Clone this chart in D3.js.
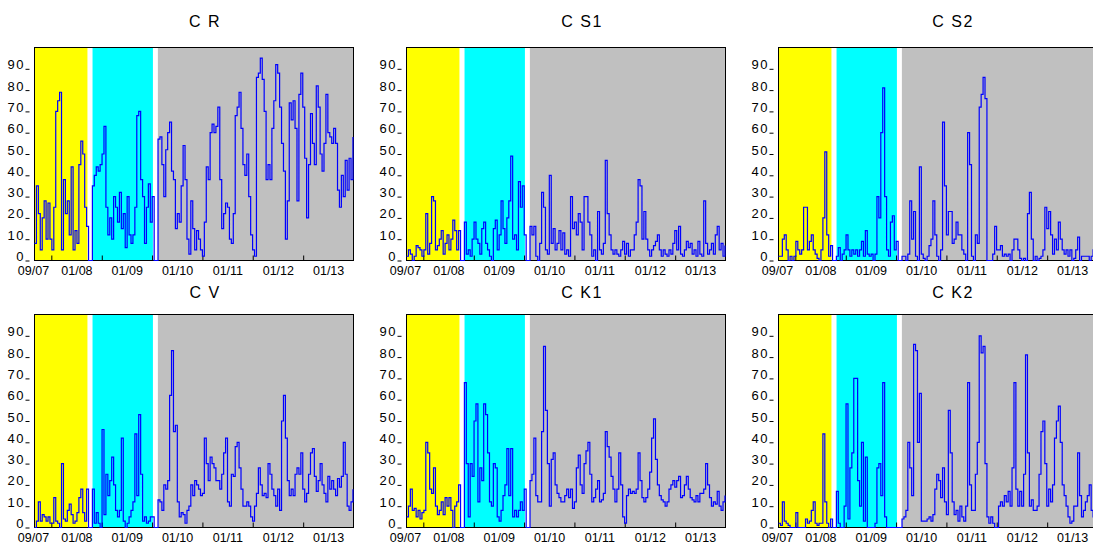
<!DOCTYPE html>
<html>
<head>
<meta charset="utf-8">
<script src="https://cdn.jsdelivr.net/npm/d3@7"></script>
<style>
  body { margin: 0; background: #fff; }
  svg { display: block; font-family: "Liberation Sans", Arial, sans-serif; }
</style>
</head>
<body>
<svg id="chart" width="1093" height="543"></svg>
<script>
// one reading every two weeks, starting 1 Sep 2007
const startDate = new Date(2007, 8, 1);
const endDate = new Date(2014, 0, 1);
const stepDays = 14;

const titles = ["C R", "C S1", "C S2", "C V", "C K1", "C K2"];

const cr = [8, 35, 22, 5, 20, 28, 10, 27, 10, 5,
  25, 70, 75, 79, 5, 38, 22, 28, 12, 44,
  5, 14, 8, 45, 56, 50, 25, 16, 0, 0,
  35, 40, 44, 42, 45, 50, 63, 25, 12, 20,
  10, 30, 25, 18, 32, 15, 22, 6, 30, 12,
  8, 12, 25, 68, 70, 38, 30, 8, 25, 36,
  18, 30, 0, 0, 57, 58, 45, 30, 52, 60,
  65, 42, 38, 15, 22, 18, 35, 54, 38, 10,
  3, 28, 15, 5, 14, 10, 5, 2, 18, 44,
  38, 60, 64, 60, 63, 72, 38, 15, 22, 27,
  25, 10, 8, 22, 68, 72, 79, 62, 45, 40,
  50, 30, 12, 5, 2, 86, 88, 95, 85, 70,
  38, 45, 38, 62, 75, 92, 88, 72, 55, 42,
  10, 28, 74, 66, 75, 62, 28, 78, 88, 72,
  48, 20, 45, 69, 55, 45, 82, 72, 50, 42,
  55, 78, 60, 58, 55, 62, 55, 33, 25, 40,
  30, 47, 33, 48, 38, 58];

const cs1 = [2, 5, 3, 0, 2, 7, 6, 5, 2, 5,
  22, 3, 8, 30, 28, 5, 7, 10, 14, 3,
  8, 12, 5, 10, 19, 14, 5, 14, 0, 0,
  18, 3, 5, 2, 10, 18, 10, 8, 3, 15,
  18, 8, 5, 2, 0, 15, 19, 5, 12, 28,
  15, 8, 20, 28, 49, 10, 12, 5, 37, 25,
  35, 12, 0, 0, 16, 12, 16, 2, 0, 8,
  32, 25, 5, 3, 40, 8, 15, 5, 8, 14,
  5, 13, 3, 5, 2, 30, 15, 18, 12, 22,
  18, 5, 30, 30, 18, 12, 2, 5, 0, 23,
  5, 3, 8, 47, 22, 12, 5, 3, 5, 3,
  2, 5, 9, 3, 8, 2, 5, 5, 12, 18,
  38, 35, 10, 23, 10, 5, 2, 5, 7, 9,
  12, 5, 2, 5, 3, 2, 5, 3, 8, 14,
  5, 16, 3, 2, 5, 9, 6, 8, 3, 5,
  2, 9, 3, 2, 28, 8, 3, 5, 8, 3,
  12, 16, 5, 8, 2, 7];

const cs2 = [2, 2, 10, 12, 5, 0, 2, 0, 2, 9,
  5, 3, 5, 25, 25, 5, 9, 12, 5, 3,
  1, 0, 5, 20, 51, 12, 2, 7, 0, 0,
  2, 6, 0, 3, 5, 12, 5, 2, 5, 3,
  5, 2, 5, 9, 2, 14, 3, 2, 3, 0,
  3, 30, 20, 60, 81, 30, 5, 2, 18, 21,
  5, 9, 0, 0, 2, 2, 0, 3, 28, 10,
  23, 2, 0, 44, 3, 1, 0, 2, 7, 10,
  28, 12, 2, 0, 5, 65, 35, 12, 23, 23,
  8, 10, 18, 12, 12, 5, 3, 0, 60, 45,
  2, 0, 12, 8, 72, 78, 86, 76, 0, 0,
  0, 3, 16, 5, 5, 7, 2, 3, 2, 3,
  0, 5, 10, 10, 5, 1, 0, 1, 0, 22,
  32, 10, 0, 2, 0, 1, 2, 5, 25, 15,
  23, 12, 3, 10, 5, 18, 10, 5, 3, 5,
  2, 5, 0, 1, 5, 11, 0, 2, 2, 2,
  2, 0, 2, 5, 3, 2];

const cv = [0, 3, 12, 3, 6, 5, 3, 5, 2, 2,
  14, 3, 2, 0, 30, 4, 3, 8, 11, 6,
  2, 3, 7, 14, 18, 7, 3, 18, 0, 0,
  18, 2, 7, 2, 0, 46, 6, 25, 15, 22,
  33, 20, 8, 5, 8, 42, 3, 0, 2, 5,
  8, 12, 44, 15, 53, 25, 3, 5, 2, 3,
  5, 5, 0, 0, 13, 12, 8, 20, 18, 22,
  62, 83, 45, 48, 12, 5, 7, 6, 2, 8,
  10, 20, 15, 22, 20, 18, 15, 16, 42, 30,
  22, 33, 30, 28, 22, 22, 18, 25, 35, 42,
  12, 10, 25, 24, 38, 40, 28, 18, 10, 10,
  12, 10, 5, 3, 10, 16, 28, 20, 15, 16,
  14, 30, 25, 18, 15, 10, 18, 8, 50, 62,
  42, 22, 15, 18, 15, 25, 28, 25, 35, 18,
  12, 16, 25, 35, 37, 24, 17, 22, 30, 20,
  16, 12, 24, 18, 22, 18, 15, 23, 19, 24,
  40, 25, 10, 8, 12, 18];

const ck1 = [5, 10, 18, 8, 9, 5, 8, 4, 7, 8,
  40, 35, 18, 16, 28, 10, 6, 8, 12, 6,
  14, 10, 14, 8, 0, 10, 12, 20, 0, 0,
  68, 30, 5, 30, 24, 50, 58, 12, 28, 22,
  58, 53, 35, 12, 10, 30, 28, 5, 3, 8,
  15, 20, 37, 15, 37, 5, 8, 5, 8, 12,
  8, 18, 0, 0, 22, 25, 42, 15, 12, 12,
  45, 85, 55, 30, 10, 32, 35, 20, 16, 14,
  12, 12, 15, 18, 14, 18, 9, 12, 28, 34,
  20, 16, 30, 36, 40, 25, 12, 14, 18, 22,
  12, 13, 16, 45, 38, 33, 24, 18, 12, 18,
  35, 20, 5, 2, 15, 18, 16, 17, 16, 18,
  35, 22, 14, 12, 14, 18, 26, 42, 51, 32,
  20, 15, 13, 12, 10, 12, 18, 20, 22, 19,
  22, 24, 14, 15, 20, 24, 18, 14, 13, 12,
  15, 12, 16, 16, 18, 30, 20, 14, 10, 12,
  11, 17, 10, 8, 12, 15];

const ck2 = [2, 1, 12, 3, 2, 1, 0, 0, 0, 7,
  0, 0, 0, 0, 4, 2, 3, 8, 12, 2,
  1, 2, 2, 44, 12, 2, 0, 4, 0, 0,
  17, 2, 0, 0, 10, 58, 4, 28, 35, 70,
  70, 22, 10, 40, 3, 33, 0, 0, 0, 0,
  2, 28, 30, 15, 68, 5, 0, 0, 0, 0,
  0, 0, 0, 0, 4, 5, 8, 40, 28, 15,
  86, 83, 40, 63, 3, 3, 3, 4, 5, 3,
  6, 18, 25, 22, 14, 28, 12, 6, 55, 35,
  12, 6, 8, 3, 10, 5, 3, 10, 68, 20,
  8, 8, 25, 40, 90, 82, 85, 30, 5, 2,
  5, 2, 0, 0, 10, 12, 10, 15, 12, 17,
  10, 28, 68, 18, 10, 17, 10, 25, 81, 35,
  10, 13, 8, 8, 10, 25, 45, 50, 30, 10,
  18, 12, 20, 42, 50, 57, 40, 20, 15, 10,
  5, 2, 3, 10, 10, 35, 15, 5, 8, 12,
  15, 20, 8, 5, 8, 10];

const series = [cr, cs1, cs2, cv, ck1, ck2];

// shaded sub-periods
const periods = [
  [new Date(2007, 8, 1), new Date(2008, 8, 19)],
  [new Date(2008, 9, 26), new Date(2010, 0, 7)],
  [new Date(2010, 1, 12), new Date(2014, 0, 1)]
];
const periodColors = ["#ffff00", "#00ffff", "#c0c0c0"];

const yTicks = [0, 10, 20, 30, 40, 50, 60, 70, 80, 90];
const tickYears = [2008, 2009, 2010, 2011, 2012, 2013];
const yearLabels = ["01/08", "01/09", "01/10", "01/11", "01/12", "01/13"];
const firstLabel = "09/07";

// layout
const colLeft = [34, 406, 778];
const titleX = [205, 582, 953];
const rowTop = [47, 314];
const titleY = [26.7, 298.3];
const plotW = 319, plotH = 213;

const svg = d3.select("#chart");

const dates = cr.map((d, i) => d3.timeDay.offset(startDate, i * stepDays));

const x = d3.scaleTime().domain([startDate, endDate]).range([0, plotW]);
const y = d3.scaleLinear().domain([0, 100]).range([plotH, 0]);

// readings hold until the next one, so draw as steps
const line = d3.line()
  .curve(d3.curveStepAfter)
  .x((d, i) => x(dates[i]))
  .y(d => y(d));

series.forEach((values, k) => {
  const col = k % 3, row = Math.floor(k / 3);
  const g = svg.append("g")
    .attr("transform", `translate(${colLeft[col] + 0.5},${rowTop[row] + 0.5})`);

  g.selectAll("rect.band")
    .data(periods)
    .enter().append("rect")
      .attr("class", "band")
      .attr("x", d => x(d[0]))
      .attr("y", 0)
      .attr("width", d => x(d[1]) - x(d[0]))
      .attr("height", plotH)
      .attr("fill", (d, i) => periodColors[i]);

  g.append("rect")
    .attr("width", plotW)
    .attr("height", plotH)
    .attr("fill", "none")
    .attr("stroke", "#000")
    .attr("stroke-width", 1);

  // y axis
  const ya = g.append("g")
    .call(d3.axisLeft(y).tickValues(yTicks).tickSize(9).tickPadding(0.5));
  ya.select(".domain").remove();
  ya.selectAll(".tick line").attr("x1", -5).attr("stroke", "#000");
  ya.selectAll(".tick text")
    .attr("dy", 0)
    .attr("fill", "#000")
    .style("font-size", "13px")
    .style("letter-spacing", "1.5px")
    .style("font-family", "'Liberation Sans', Arial, sans-serif");

  // x axis: inward year ticks
  const xa = g.append("g")
    .attr("transform", `translate(0,${plotH})`)
    .call(d3.axisBottom(x)
      .tickValues(tickYears.map(yr => new Date(yr, 0, 1)))
      .tickSize(-5)
      .tickFormat(""));
  xa.select(".domain").remove();
  xa.selectAll(".tick line").attr("stroke", "#000");

  // x labels, centred in each year
  const labelDates = [startDate].concat(tickYears.map(yr => new Date(yr, 6, 1)));
  const labelText = [firstLabel].concat(yearLabels);
  const xl = g.append("g")
    .attr("transform", `translate(0,${plotH})`)
    .call(d3.axisBottom(x)
      .tickValues(labelDates)
      .tickSize(0)
      .tickFormat((d, i) => labelText[i]));
  xl.select(".domain").remove();
  xl.selectAll(".tick text")
    .attr("y", 14)
    .attr("dy", 0)
    .attr("fill", "#000")
    .style("font-size", "12.5px")
    .style("font-family", "'Liberation Sans', Arial, sans-serif");
  xl.select(".tick text").attr("dx", -1.5);

  g.append("path")
    .datum(values)
    .attr("d", line)
    .attr("fill", "none")
    .attr("stroke", "#0000ff")
    .attr("stroke-width", 1.2);

  svg.append("text")
    .attr("x", titleX[col])
    .attr("y", titleY[row])
    .attr("text-anchor", "middle")
    .style("font-size", "16px")
    .style("letter-spacing", "1.5px")
    .attr("fill", "#000")
    .text(titles[k]);
});
</script>
</body>
</html>
